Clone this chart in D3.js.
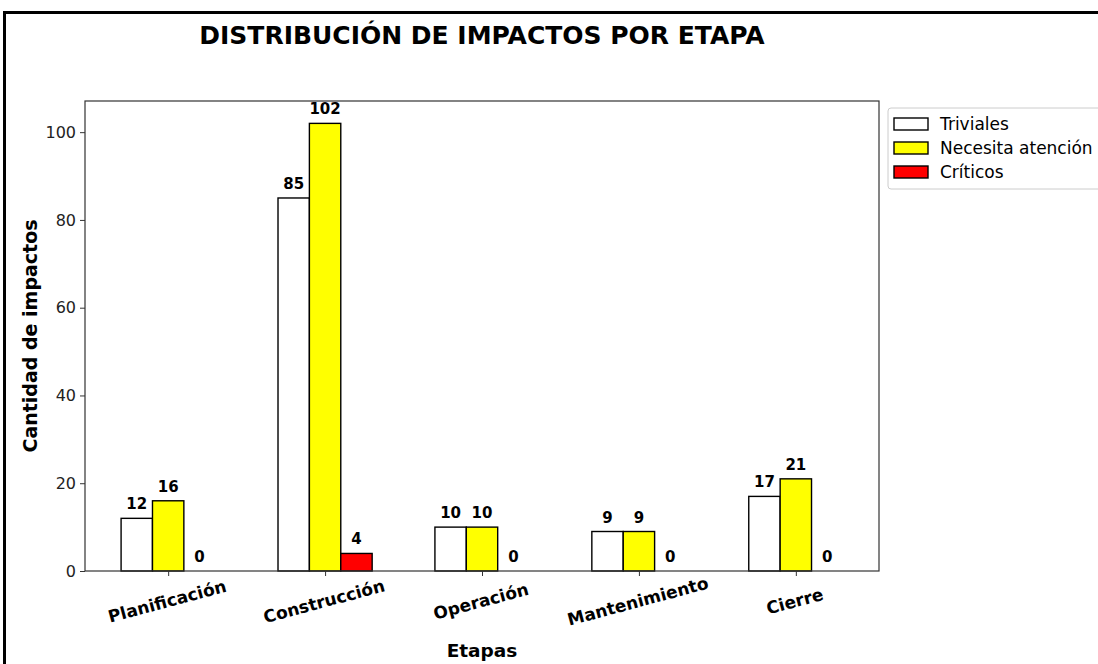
<!DOCTYPE html>
<html>
<head>
<meta charset="utf-8">
<script src="https://cdn.jsdelivr.net/npm/d3@7"></script>
<style>
  body { margin: 0; background: #fff; }
  svg { font-family: "DejaVu Sans", sans-serif; }
</style>
</head>
<body>
<svg id="chart" width="1098" height="664"></svg>
<script>
// data
var etapas = ["Planificación", "Construcción", "Operación", "Mantenimiento", "Cierre"];
var triviales = [12, 85, 10, 9, 17];
var atencion = [16, 102, 10, 9, 21];
var criticos = [0, 4, 0, 0, 0];
var seriesNames = ["Triviales", "Necesita atención", "Críticos"];
var seriesColors = ["#ffffff", "#ffff00", "#ff0000"];
var yTicks = [0, 20, 40, 60, 80, 100];

var series = [triviales, atencion, criticos];

var margin = {top: 101, right: 219, bottom: 93, left: 85},
    width = 1098 - margin.left - margin.right,
    height = 664 - margin.top - margin.bottom;

var svg = d3.select("#chart");

// outer frame (only top and left visible)
svg.append("path")
    .attr("d", "M4.5,664 L4.5,12.5 L1098,12.5")
    .attr("fill", "none")
    .attr("stroke", "#000")
    .attr("stroke-width", 3);

var g = svg.append("g")
    .attr("transform", "translate(" + margin.left + "," + margin.top + ")");

var barW = 0.2;
var x = d3.scaleLinear()
    .domain([-0.3 - 0.23, 4.3 + 0.23])
    .range([0, width]);

var yMax = d3.max(series, function(s) { return d3.max(s); }) * 1.05;
var y = d3.scaleLinear()
    .domain([0, yMax])
    .range([height, 0]);

// bars
series.forEach(function(s, si) {
  var off = (si - 1) * barW;
  g.selectAll(".bar" + si)
    .data(s)
    .enter().append("rect")
    .attr("class", "bar" + si)
    .attr("x", function(d, i) { return x(i + off - barW / 2); })
    .attr("width", x(barW) - x(0))
    .attr("y", function(d) { return y(d); })
    .attr("height", function(d) { return height - y(d); })
    .attr("fill", seriesColors[si])
    .attr("stroke", "#000")
    .attr("stroke-width", 1.4);

  g.selectAll(".lab" + si)
    .data(s)
    .enter().append("text")
    .attr("x", function(d, i) { return x(i + off); })
    .attr("y", function(d) { return y(d) - 9; })
    .attr("text-anchor", "middle")
    .attr("font-size", 15)
    .attr("font-weight", "bold")
    .attr("fill", "#000")
    .text(function(d) { return d; });
});

// axes
var yAxis = g.append("g")
    .call(d3.axisLeft(y).tickValues(yTicks).tickSize(5).tickPadding(4));
yAxis.selectAll("text").attr("font-size", 16).attr("fill", "#222")
    .attr("font-family", "DejaVu Sans");
yAxis.selectAll("line").attr("stroke", "#333");

var xAxis = g.append("g")
    .attr("transform", "translate(0," + height + ")")
    .call(d3.axisBottom(x).tickValues(d3.range(etapas.length)).tickSize(5).tickFormat(""));
xAxis.selectAll("line").attr("stroke", "#333");

xAxis.selectAll(".tick").append("text")
    .attr("transform", "translate(0,36) rotate(-15)")
    .attr("text-anchor", "middle")
    .attr("fill", "#000")
    .attr("font-size", 17)
    .attr("font-weight", "bold")
    .attr("font-family", "DejaVu Sans")
    .text(function(d) { return etapas[d]; });

// frame of the plot
g.selectAll(".domain").remove();
g.append("rect")
    .attr("width", width)
    .attr("height", height)
    .attr("fill", "none")
    .attr("stroke", "#333")
    .attr("stroke-width", 1.2);

// titles
svg.append("text")
    .attr("x", margin.left + width / 2)
    .attr("y", 44)
    .attr("text-anchor", "middle")
    .attr("font-size", 25)
    .attr("font-weight", "bold")
    .text("DISTRIBUCIÓN DE IMPACTOS POR ETAPA");

svg.append("text")
    .attr("transform", "translate(37," + (margin.top + height / 2) + ") rotate(-90)")
    .attr("text-anchor", "middle")
    .attr("font-size", 19)
    .attr("font-weight", "bold")
    .text("Cantidad de impactos");

svg.append("text")
    .attr("x", margin.left + width / 2)
    .attr("y", 657)
    .attr("text-anchor", "middle")
    .attr("font-size", 18.5)
    .attr("font-weight", "bold")
    .text("Etapas");

// legend
var legend = svg.append("g").attr("transform", "translate(888,108)");
legend.append("rect")
    .attr("width", 220)
    .attr("height", 81)
    .attr("rx", 3)
    .attr("fill", "#fff")
    .attr("stroke", "#ccc");
seriesNames.forEach(function(name, i) {
  var row = legend.append("g").attr("transform", "translate(0," + (16 + i * 24) + ")");
  row.append("rect")
    .attr("x", 6).attr("y", -6)
    .attr("width", 34).attr("height", 12)
    .attr("fill", seriesColors[i])
    .attr("stroke", "#000")
    .attr("stroke-width", 1.4);
  row.append("text")
    .attr("x", 52).attr("y", 6)
    .attr("font-size", 17)
    .text(name);
});
</script>
</body>
</html>
